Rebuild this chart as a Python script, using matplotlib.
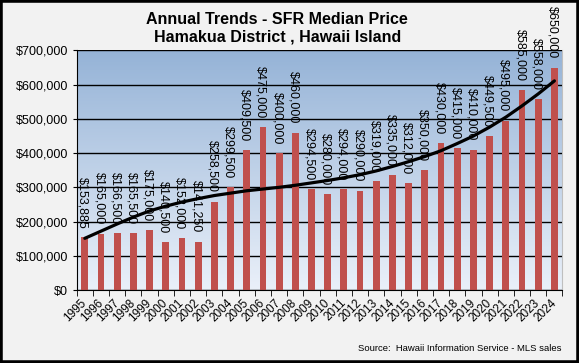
import matplotlib.pyplot as plt
import numpy as np
from matplotlib.patches import Rectangle
from matplotlib.ticker import FuncFormatter, MultipleLocator
from matplotlib.transforms import ScaledTranslation

years = list(range(1995, 2025))
prices = [153885, 165000, 166500, 165500, 175000, 140500, 152000, 141250,
          258500, 299500, 409500, 475000, 400000, 460000, 294500, 280000,
          294000, 290000, 319000, 335000, 312000, 350000, 430000, 415000,
          410000, 449500, 495000, 585000, 558000, 650000]
# trendline values
trend = [151000, 172000, 193000, 213000, 231000, 245000, 257000, 267000,
         276000, 283000, 290000, 295000, 300000, 306000, 313000, 320000,
         328000, 337000, 348000, 361000, 375000, 390000, 407000, 428000,
         450000, 476000, 505000, 538000, 573000, 611000]

plt.rcParams['font.family'] = ['Liberation Sans', 'DejaVu Sans']

fig = plt.figure(figsize=(5.79, 3.63), dpi=100)
fig.patch.set_facecolor("#F2F2F2")
ax = fig.add_axes([0.1325, 0.2011, 0.839, 0.660])

x = np.arange(len(years))

# gradient plot-area background
grad = np.linspace(0, 1, 256).reshape(-1, 1)
top = np.array([0x95, 0xB3, 0xD7]) / 255
bot = np.array([0xEA, 0xF0, 0xF9]) / 255
img = top + (bot - top) * grad[..., None]
ax.imshow(img, extent=[-0.5, len(years) - 0.5, 0, 700000], aspect="auto", zorder=0)

ax.bar(x, prices, width=0.42, color="#C0504D", zorder=3)
ax.plot(x, trend, color="black", lw=2.3, zorder=4, solid_capstyle="round",
        solid_joinstyle="round")

for xi, p in zip(x, prices):
    ax.annotate(f"${p:,}", (xi, p), xytext=(-1.5, 6.5), textcoords="offset points",
                rotation=270, ha="center", va="bottom", fontsize=9,
                annotation_clip=False, zorder=5)

ax.set_xlim(-0.5, len(years) - 0.5)
ax.set_ylim(0, 700000)
ax.yaxis.set_major_locator(MultipleLocator(100000))
ax.yaxis.set_major_formatter(FuncFormatter(lambda v, _: f"${v:,.0f}"))
ax.grid(axis="y", color="black", lw=1, zorder=1)
ax.set_axisbelow(False)

ax.set_xticks(x)
ax.set_xticklabels([str(y) for y in years], rotation=45, ha="right", va="center",
                   rotation_mode="anchor", fontsize=8.5)
shift = ScaledTranslation(-4 / 72, 0, fig.dpi_scale_trans)
for lab in ax.get_xticklabels():
    lab.set_transform(lab.get_transform() + shift)
ax.set_xticks(np.arange(-0.5, len(years)), minor=True)
ax.tick_params(axis="x", which="major", length=0, pad=8)
ax.tick_params(axis="x", which="minor", length=4, direction="out")
ax.tick_params(axis="y", length=3, direction="out", labelsize=9, pad=3)

ax.spines["top"].set_visible(False)
ax.spines["right"].set_color("#BFBFBF")
ax.spines["left"].set_color("black")
ax.spines["bottom"].set_color("black")
ax.spines["bottom"].set_zorder(6)

fig.text(0.479, 0.968, "Annual Trends - SFR Median Price\nHamakua District , Hawaii Island",
         ha="center", va="top", fontsize=11.5, fontweight="bold", linespacing=1.25)
fig.text(0.970, 0.033, "Source:  Hawaii Information Service - MLS sales",
         ha="right", va="baseline", fontsize=6.8)

fig.add_artist(Rectangle((0, 0), 1, 1, transform=fig.transFigure, fill=False,
                         edgecolor="black", lw=4))

fig.savefig("out.png", dpi=100, facecolor=fig.get_facecolor())
